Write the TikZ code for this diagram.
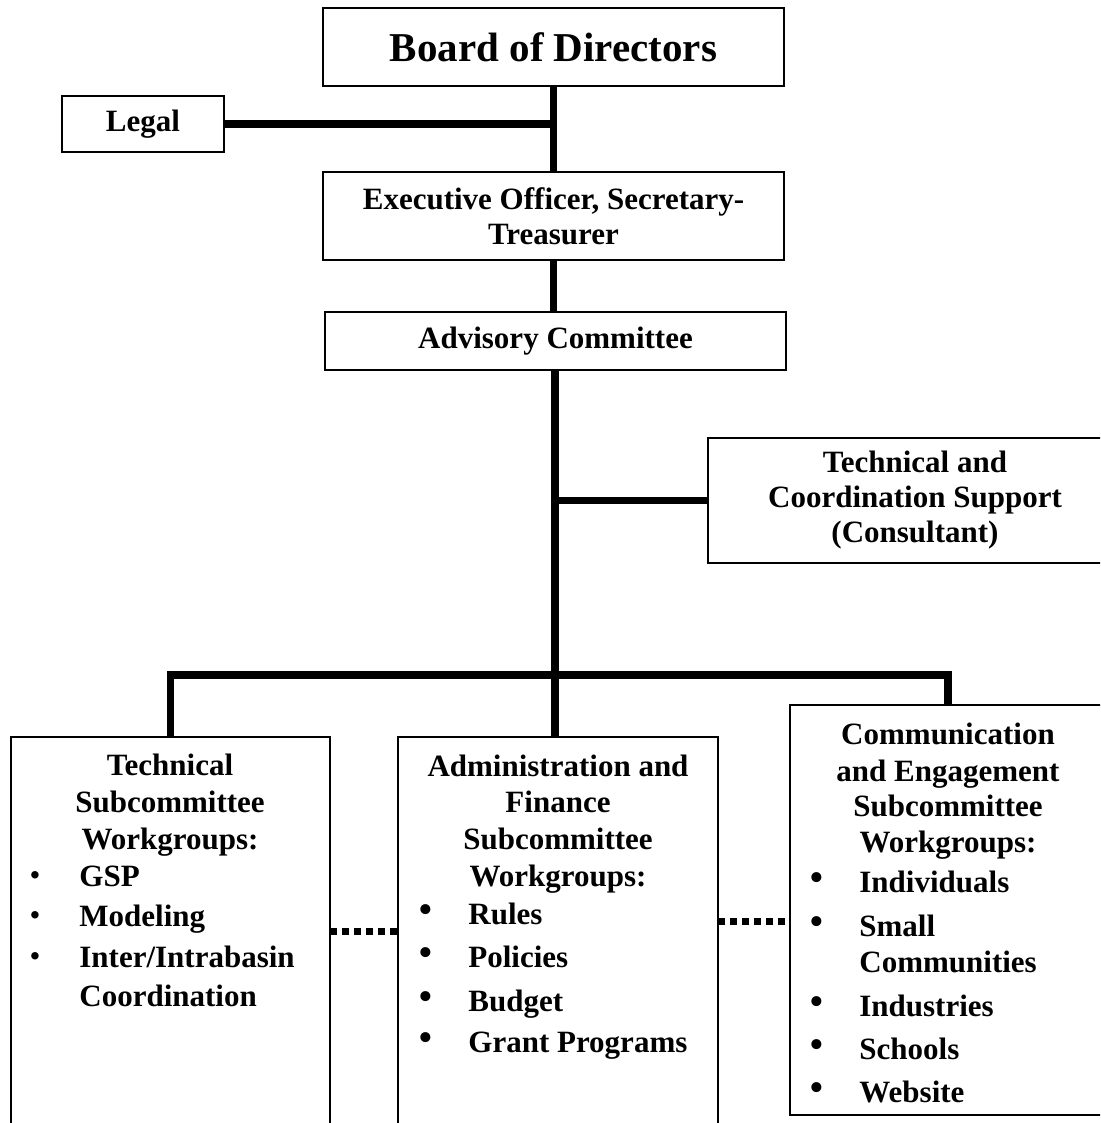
\documentclass[tikz,border=0pt]{standalone}
\usepackage{fontspec}
\setmainfont{Liberation Serif}
\newcommand\orgfont{\bfseries\fontsize{15.5}{17.5}\selectfont}
\newcommand\bigbul{{\fontsize{21}{21}\selectfont\textbullet}}
\newcommand\smallbul{{\fontsize{15.5}{15.5}\selectfont\textbullet}}
\begin{document}
\begin{tikzpicture}[x=0.5pt,y=-0.5pt,
  box/.style={draw, line width=1pt, inner sep=0pt, outer sep=0pt,
    anchor=north west, align=center, font=\orgfont},
  conn/.style={line width=3.8pt},
  dots/.style={line width=3.5pt, dash pattern=on 3.5pt off 2.5pt},
  ttl/.style={anchor=mid, font=\orgfont, inner sep=0pt, yshift=-2.5pt},
  itm/.style={anchor=mid west, font=\orgfont, inner sep=0pt, yshift=-2.5pt},
  bul/.style={anchor=mid, inner sep=0pt, yshift=-2pt}]
\useasboundingbox (0,0) rectangle (1100,1123);
\clip (0,0) rectangle (1100,1123);

% upper chain of boxes
\node[box, minimum width=230.5pt, minimum height=39pt,
  font=\bfseries\fontsize{20.5}{22}\selectfont] (board) at (323,8) {Board of Directors};
\node[box, minimum width=81pt, minimum height=28pt] (legal) at (62,96) {Legal};
\node[box, minimum width=230.5pt, minimum height=44pt] (exec) at (323,172)
  {Executive Officer, Secretary-\\Treasurer};
\node[box, minimum width=230.5pt, minimum height=29pt] (advisory) at (325,312)
  {Advisory Committee};
\node[box, minimum width=207pt, minimum height=62.5pt] (support) at (708,438)
  {Technical and\\Coordination Support\\(Consultant)};

% subcommittee boxes
\node[box, minimum width=159.5pt, minimum height=201.5pt] (tech) at (11,737) {};
\node[box, minimum width=160pt, minimum height=201.5pt] (admin) at (398,737) {};
\node[box, minimum width=158pt, minimum height=205pt] (comm) at (790,705) {};

% connectors
\draw[conn] (board.south) -- (exec.north);
\draw[conn] (legal.east) -- (legal.east -| board.south);
\draw[conn] (exec.south) -- (exec.south |- advisory.north);
\coordinate (bus) at (555,675);
\draw[conn] (advisory.south -| bus) -- (bus) -- (admin.north -| bus);
\draw[conn] (support.west) -- (support.west -| bus);
\draw[conn] (tech.north) -- (tech.north |- bus) -- (comm.north |- bus) -- (comm.north);

% dotted links between subcommittees
\path (tech.east) ++(0,-7) coordinate (dl);
\path (admin.east) ++(0,-17) coordinate (dr);
\draw[dots] (dl) -- (dl -| admin.west);
\draw[dots] (dr) -- (dr -| comm.west);

% Technical Subcommittee
\node[ttl] (t1) at (170,766) {Technical};
\node[ttl] (t2) at (170,803) {Subcommittee};
\node[ttl] (t3) at (170,840) {Workgroups:};
\foreach \y/\txt [count=\i] in {877/GSP, 917/Modeling, 958/{Inter/Intrabasin}}{
  \node[bul] (tb\i) at (35,\y) {\smallbul};
  \node[itm] (ti\i) at (79,\y) {\txt};
}
\node[itm] (ti4) at (79,997) {Coordination};

% Administration and Finance Subcommittee
\node[ttl] (a1) at (558,767) {Administration and};
\node[ttl] (a2) at (558,803) {Finance};
\node[ttl] (a3) at (558,840) {Subcommittee};
\node[ttl] (a4) at (558,877) {Workgroups:};
\foreach \y/\txt [count=\i] in {915/Rules, 958/Policies, 1002/Budget, 1043/Grant Programs}{
  \node[bul] (ab\i) at (426,\y) {\bigbul};
  \node[itm] (ai\i) at (468,\y) {\txt};
}

% Communication and Engagement Subcommittee
\node[ttl] (c1) at (948,735) {Communication};
\node[ttl] (c2) at (948,772) {and Engagement};
\node[ttl] (c3) at (948,807) {Subcommittee};
\node[ttl] (c4) at (948,843) {Workgroups:};
\foreach \y/\txt [count=\i] in {883/Individuals, 927/Small, 1007/Industries, 1050/Schools, 1093/Website}{
  \node[bul] (cb\i) at (817,\y) {\bigbul};
  \node[itm] (ci\i) at (859,\y) {\txt};
}
\node[itm] (ci6) at (859,963) {Communities};
\end{tikzpicture}
\end{document}
